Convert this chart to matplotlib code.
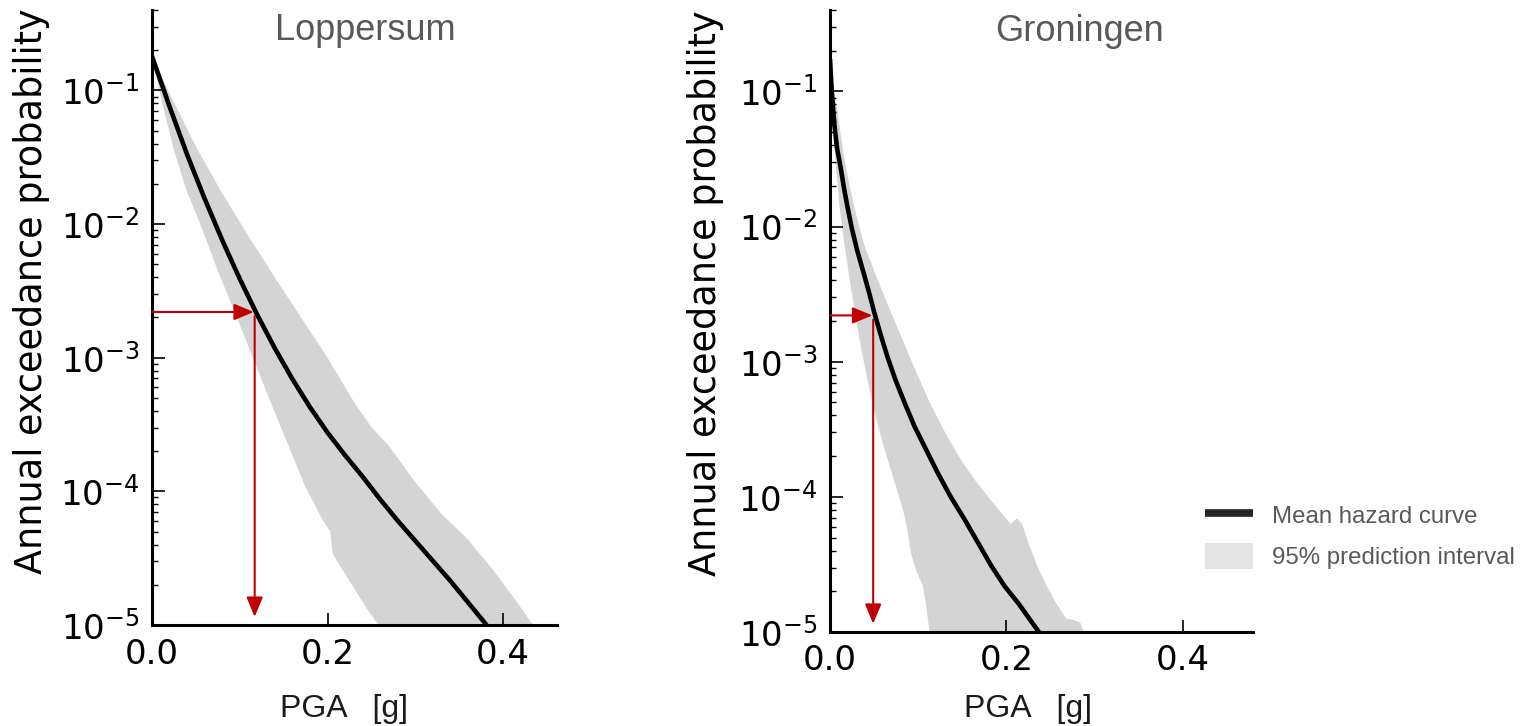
import numpy as np
import matplotlib
matplotlib.use("Agg")
import matplotlib.pyplot as plt
from matplotlib.ticker import FormatStrFormatter, LogLocator
from matplotlib.lines import Line2D
from matplotlib.patches import Patch

# -----------------------------------------------------------------------------
# Data: PGA [g] and log10 of annual exceedance probability
# -----------------------------------------------------------------------------
# Loppersum
lop_mean_pga = [0.0, 0.02, 0.04, 0.06, 0.08, 0.10, 0.12, 0.14, 0.16, 0.18, 0.20,
                0.22, 0.24, 0.26, 0.28, 0.30, 0.32, 0.34, 0.36, 0.38, 0.386]
lop_mean_logp = [-0.745, -1.12, -1.48, -1.81, -2.12, -2.41, -2.68, -2.93, -3.16, -3.37, -3.56,
                 -3.73, -3.89, -4.06, -4.22, -4.37, -4.52, -4.67, -4.83, -4.99, -5.05]

lop_upper_pga = [0.0, 0.02, 0.05, 0.08, 0.11, 0.14, 0.17, 0.20, 0.23, 0.25, 0.27,
                 0.30, 0.33, 0.36, 0.39, 0.415, 0.434, 0.44]
lop_upper_logp = [-0.745, -1.02, -1.42, -1.77, -2.09, -2.40, -2.70, -3.00, -3.33, -3.52, -3.66,
                  -3.93, -4.17, -4.36, -4.60, -4.82, -5.0, -5.05]

lop_lower_pga = [0.0, 0.01, 0.025, 0.04, 0.055, 0.075, 0.095, 0.115, 0.135, 0.155, 0.175,
                 0.195, 0.203, 0.206, 0.225, 0.245, 0.258, 0.262]
lop_lower_logp = [-0.745, -1.05, -1.45, -1.76, -2.0, -2.35, -2.67, -3.0, -3.33, -3.65, -3.97,
                  -4.22, -4.30, -4.47, -4.67, -4.88, -5.0, -5.05]

# Groningen
gro_mean_pga = [0.0, 0.002, 0.005, 0.008, 0.012, 0.016, 0.020, 0.025, 0.031, 0.038, 0.044,
                0.050, 0.057, 0.065, 0.074, 0.085, 0.096, 0.109, 0.122, 0.137, 0.153,
                0.168, 0.183, 0.198, 0.214, 0.226, 0.237, 0.242]
gro_mean_logp = [-0.76, -1.0, -1.25, -1.42, -1.56, -1.72, -1.86, -2.02, -2.18, -2.34, -2.48,
                 -2.63, -2.79, -2.96, -3.13, -3.31, -3.48, -3.65, -3.82, -4.0, -4.17,
                 -4.34, -4.51, -4.66, -4.79, -4.90, -5.0, -5.05]

gro_upper_pga = [0.0, 0.004, 0.009, 0.015, 0.022, 0.030, 0.039, 0.052, 0.065, 0.080, 0.096,
                 0.113, 0.131, 0.148, 0.166, 0.182, 0.196, 0.205, 0.212, 0.218, 0.224,
                 0.235, 0.246, 0.257, 0.268, 0.276, 0.284, 0.288, 0.29]
gro_upper_logp = [-0.76, -0.98, -1.17, -1.45, -1.69, -1.92, -2.14, -2.36, -2.57, -2.80, -3.05,
                  -3.30, -3.53, -3.72, -3.89, -4.02, -4.13, -4.20, -4.16, -4.20, -4.32,
                  -4.51, -4.66, -4.79, -4.90, -4.91, -4.93, -5.0, -5.05]

gro_lower_pga = [0.0, 0.002, 0.004, 0.007, 0.011, 0.016, 0.022, 0.028, 0.035, 0.043, 0.052,
                 0.061, 0.070, 0.077, 0.083, 0.088, 0.092, 0.098, 0.105, 0.109, 0.111,
                 0.113, 0.114]
gro_lower_logp = [-0.76, -1.05, -1.30, -1.58, -1.86, -2.12, -2.38, -2.62, -2.89, -3.15, -3.41,
                  -3.63, -3.82, -3.97, -4.10, -4.25, -4.42, -4.55, -4.65, -4.80, -4.90,
                  -5.0, -5.05]

# 475-year design level and the PGA
p_design = 2.2e-3
lop_pga_design = 0.117
gro_pga_design = 0.049

titles = ["Loppersum", "Groningen"]

# -----------------------------------------------------------------------------
# Figure
# -----------------------------------------------------------------------------
W, H = 1524, 726
fig = plt.figure(figsize=(W / 100, H / 100), dpi=100)

ax1 = fig.add_axes([152 / W, (H - 625) / H, 405 / W, 615 / H])
ax2 = fig.add_axes([830 / W, (H - 632) / H, 423 / W, 622 / H])

band_color = "#d4d4d4"
red = "#c00000"
gray_txt = "#595959"
arial = "Liberation Sans"

panels = [
    (ax1, lop_mean_pga, lop_mean_logp, lop_upper_pga, lop_upper_logp,
     lop_lower_pga, lop_lower_logp, lop_pga_design, 0.4615, 0.526,
     (-0.252, 0.543), (0.474, -0.112)),
    (ax2, gro_mean_pga, gro_mean_logp, gro_upper_pga, gro_upper_logp,
     gro_lower_pga, gro_lower_logp, gro_pga_design, 0.48, 0.589,
     (-0.251, 0.545), (0.468, -0.100)),
]

for i, (ax, m_x, m_l, u_x, u_l, l_x, l_l, pga_d, xmax, tx, ylab, xlab) in enumerate(panels):
    m_y = np.power(10.0, m_l)
    u_y = np.power(10.0, u_l)
    l_y = np.power(10.0, l_l)

    # prediction band as a polygon (lower edge out, upper edge back)
    ax.fill(np.concatenate([l_x, u_x[::-1]]), np.concatenate([l_y, u_y[::-1]]),
            color=band_color, lw=0, zorder=1)
    ax.plot(m_x, m_y, color="black", lw=3.3, zorder=3, solid_capstyle="butt")

    # design arrows
    arrow = dict(arrowstyle="-|>,head_length=0.6,head_width=0.25", color=red,
                 lw=1.5, shrinkA=0, shrinkB=0, mutation_scale=20)
    ax.annotate("", xy=(pga_d - 0.001, p_design), xytext=(0.0, p_design),
                arrowprops=arrow, zorder=4)
    ax.annotate("", xy=(pga_d, 1.15e-5), xytext=(pga_d, p_design * 0.93),
                arrowprops=arrow, zorder=4)

    ax.set_yscale("log")
    ax.set_xlim(0, xmax)
    ax.set_ylim(1e-5, 0.4)
    ax.set_xticks([0.0, 0.2, 0.4])
    ax.xaxis.set_major_formatter(FormatStrFormatter("%.1f"))
    ax.yaxis.set_major_locator(LogLocator(base=10, numticks=10))
    ax.yaxis.set_minor_locator(LogLocator(base=10, subs=np.arange(2, 10), numticks=10))

    for s in ["top", "right"]:
        ax.spines[s].set_visible(False)
    for s in ["left", "bottom"]:
        ax.spines[s].set_linewidth(2.2)

    ax.tick_params(axis="both", which="major", direction="in", length=9, width=1.2,
                   labelsize=24.5, pad=9, top=False, right=False)
    ax.tick_params(axis="y", which="minor", direction="in", length=4, width=1.0,
                   right=False)
    ax.tick_params(axis="x", which="minor", bottom=False, top=False)

    ax.set_ylabel("Annual exceedance probability", fontsize=26.3)
    ax.yaxis.set_label_coords(*ylab)
    ax.set_xlabel("PGA   [g]", fontsize=23, family=arial, color="#1a1a1a")
    ax.xaxis.set_label_coords(*xlab)

    ax.text(tx, 0.966, titles[i], transform=ax.transAxes, ha="center", va="center",
            fontsize=26, family=arial, color=gray_txt)

# legend to the right of the Groningen panel
handles = [Line2D([], [], color="#262626", lw=5.5, solid_capstyle="butt"),
           Patch(facecolor="#e5e5e5", edgecolor="none")]
fig.legend(handles, ["Mean hazard curve", "95% prediction interval"],
           loc="upper left", bbox_to_anchor=(1205 / W, (H - 502) / H),
           frameon=False, borderpad=0, borderaxespad=0,
           handlelength=2.0, handleheight=1.3, handletextpad=0.8,
           labelspacing=0.62, prop={"family": arial, "size": 17.3},
           labelcolor=gray_txt)

fig.savefig("out.png", dpi=100)
